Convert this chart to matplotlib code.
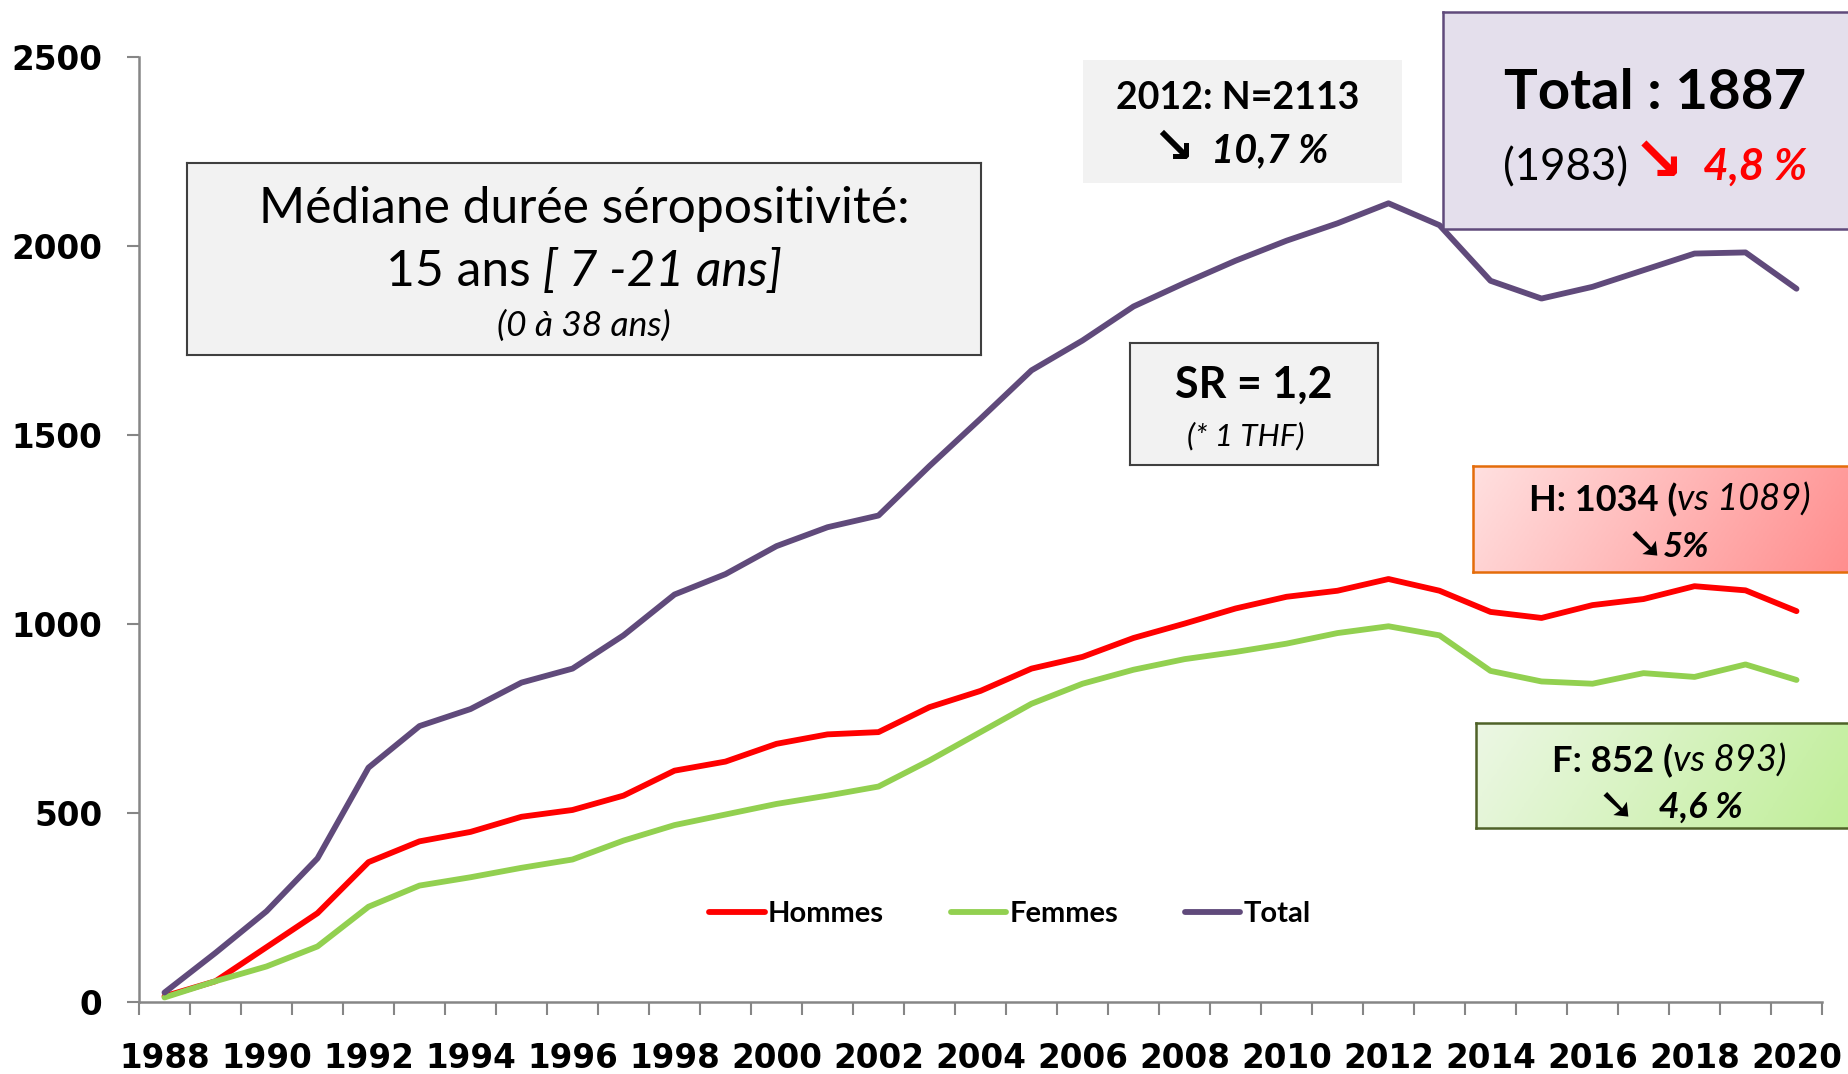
import numpy as np
import matplotlib.pyplot as plt
from matplotlib.colors import LinearSegmentedColormap

years = list(range(1988, 2021))
hommes = [15, 55, 145, 235, 370, 425, 450, 490, 508, 546, 612, 636, 683, 708, 714,
          780, 823, 882, 913, 963, 1001, 1041, 1072, 1088, 1119, 1088, 1032, 1016,
          1050, 1066, 1100, 1089, 1034]
femmes = [12, 55, 94, 147, 252, 308, 330, 355, 377, 427, 468, 496, 524, 546, 570,
          639, 714, 789, 842, 879, 907, 926, 948, 976, 994, 970, 876, 848, 842, 870,
          860, 893, 852]
total = [25, 130, 240, 380, 620, 730, 775, 845, 882, 970, 1078, 1132, 1206, 1256,
         1287, 1418, 1543, 1671, 1750, 1840, 1902, 1961, 2014, 2060, 2113, 2055,
         1908, 1861, 1892, 1936, 1980, 1983, 1887]
series_names = ["Hommes", "Femmes", "Total"]
series_colors = ["#FF0000", "#92D050", "#604A7B"]

W, H = 1849, 1074
TXT = ["Lato", "DejaVu Sans"]

fig = plt.figure(figsize=(W / 100, H / 100), dpi=100)
ax = fig.add_axes([139 / W, 1 - 1002 / H, (1822 - 139) / W, (1002 - 57) / H])

for vals, name, col in zip([hommes, femmes, total], series_names, series_colors):
    ax.plot(years, vals, color=col, lw=4.2, label=name, solid_capstyle="round",
            solid_joinstyle="round")

ax.set_xlim(1987.5, 2020.5)
ax.set_ylim(0, 2500)
ax.set_yticks(range(0, 2501, 500))
ax.set_xticks(range(1988, 2021, 2))
ax.set_xticks(np.arange(1987.5, 2021, 1), minor=True)
for s in ["top", "right"]:
    ax.spines[s].set_visible(False)
for s in ["left", "bottom"]:
    ax.spines[s].set_color("#868686")
    ax.spines[s].set_linewidth(1.8)
ax.tick_params(axis="y", direction="out", length=9, width=1.5, color="#868686", pad=17.5)
ax.tick_params(axis="x", which="major", length=0, pad=29)
ax.tick_params(axis="x", which="minor", direction="out", length=9, width=1.5, color="#868686")
for lab in ax.get_xticklabels() + ax.get_yticklabels():
    lab.set_fontsize(23.5)
    lab.set_fontweight("bold")
    lab.set_family("DejaVu Sans")

leg = ax.legend(loc="center", bbox_to_anchor=(1010 / W, 1 - 914 / H),
                bbox_transform=fig.transFigure, ncol=3, frameon=False,
                prop={"family": "Lato", "weight": "bold", "size": 21},
                handlelength=1.9, handletextpad=0.1, columnspacing=2.3)


def box(x0, y0, x1, y1, face, edge=None, lw=1.5, grad=None):
    b = fig.add_axes([x0 / W, 1 - y1 / H, (x1 - x0) / W, (y1 - y0) / H], zorder=2)
    b.set_xticks([])
    b.set_yticks([])
    b.set_facecolor(face)
    if grad is not None:
        cmap = LinearSegmentedColormap.from_list("g", grad)
        gx = np.linspace(0, 1, 200)[None, :] * np.ones((50, 1))
        gy = np.linspace(0, 1, 50)[:, None] * np.ones((1, 200))
        b.imshow(0.85 * gx + 0.15 * gy, cmap=cmap, aspect="auto", extent=[0, 1, 0, 1],
                 origin="upper")
    for s in b.spines.values():
        if edge is None:
            s.set_visible(False)
        else:
            s.set_color(edge)
            s.set_linewidth(lw)
    return b


def text_line(parts, xc, yb, size):
    r = fig.canvas.get_renderer()
    items = []
    for s, kw in parts:
        kw = dict(kw)
        kw.setdefault("fontsize", size)
        items.append(fig.text(0, 0, s, va="baseline", ha="left", zorder=5, **kw))
    ws = [t.get_window_extent(r).width for t in items]
    x = xc - sum(ws) / 2
    for t, w in zip(items, ws):
        t.set_position((x / W, 1 - yb / H))
        x += w


reg = dict(family=TXT)
ita = dict(family=TXT, style="italic")
bold = dict(family=TXT, weight="bold")
bita = dict(family=TXT, weight="bold", style="italic")
arrow = dict(family="DejaVu Sans", weight="bold")

# median box
box(187, 163, 981, 355, "#F2F2F2", "#3F3F3F", 1.5)
text_line([("Médiane durée séropositivité:", reg)], 584, 223, 35.8)
text_line([("15 ans", reg), (" [ 7 -21 ans]", ita)], 584, 286, 35.8)
text_line([("(0 à 38 ans)", ita)], 584, 336, 25.5)

# 2012 box
box(1083, 60, 1402, 183, "#F2F2F2")
text_line([("2012: N=2113", bold)], 1238, 109, 27)
text_line([("↘", dict(arrow, fontsize=36)), ("  10,7 %", bita)], 1240, 162, 28.5)

# total box
box(1443, 12, 1860, 229, "#E4DFEC", "#604A7B", 1.8)
text_line([("Total : 1887", bold)], 1655, 109, 40.5)
text_line([("(1983)", reg), (" ", dict(reg, fontsize=14)),
           ("↘", dict(arrow, color="#FF0000", fontsize=44)),
           ("  4,8 %", dict(bita, color="#FF0000"))], 1655, 180, 31.5)

# SR box
box(1130, 343, 1378, 465, "#F2F2F2", "#3F3F3F", 1.5)
text_line([("SR = 1,2", bold)], 1254, 398, 31)
text_line([("(* 1 THF)", ita)], 1246, 445, 22.5)

# H box
box(1473, 466, 1860, 572, "#FFDADA", "#E46C0A", 1.8, grad=["#FFE0E0", "#FF8C8C"])
text_line([("H: 1034 (", bold), ("vs 1089)", ita)], 1670, 511, 26)
text_line([("➘", dict(arrow, fontsize=32)), ("5%", bita)], 1668, 557, 25)

# F box
box(1476, 723, 1860, 828, "#E6F5DB", "#4F6228", 1.8, grad=["#ECF7E4", "#BFEE97"])
text_line([("F: 852 (", bold), ("vs 893)", ita)], 1669, 772, 26.3)
text_line([("➘", dict(arrow, fontsize=32)), ("   4,6 %", bita)], 1670, 818, 26)

fig.savefig("out.png", dpi=100)
